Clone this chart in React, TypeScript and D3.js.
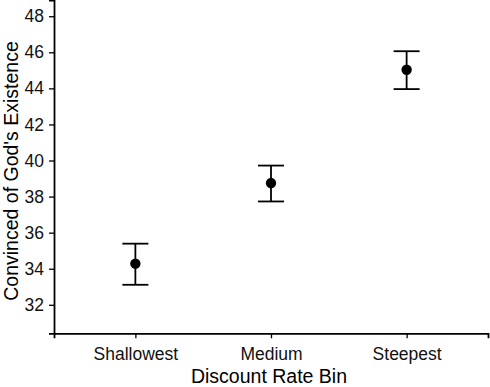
import React, { useEffect, useRef } from 'react'
import * as d3 from 'd3'

const bins = ['Shallowest', 'Medium', 'Steepest']
const means = [34.28, 38.75, 45.03]
const lower = [33.11, 37.73, 43.96]
const upper = [35.39, 39.72, 46.06]
const yTicks = [32, 34, 36, 38, 40, 42, 44, 46, 48]

const W = 490
const H = 387
const FONT = '"Liberation Sans", Arial, sans-serif'

export default function App() {
  const ref = useRef<SVGSVGElement>(null)

  useEffect(() => {
    const svg = d3.select(ref.current)
    svg.selectAll('*').remove()

    const left = 54
    const right = 488
    const top = 0
    const bottom = 333.3

    // discrete x with ggplot-like 0.6 expansion on each side
    const x = d3.scalePoint<string>()
      .domain(bins)
      .range([left, right])
      .padding(0.6)

    const y = d3.scaleLinear()
      .domain([30.42, 48.9])
      .range([bottom, top])

    const xAxis = svg.append('g')
      .attr('transform', `translate(0,${bottom})`)
      .call(d3.axisBottom(x).tickSizeOuter(0).tickSize(5).tickPadding(9))
    xAxis.select('.domain').attr('stroke', '#000').attr('stroke-width', 1.8)
    xAxis.selectAll('.tick line').attr('stroke', '#000').attr('stroke-width', 1.3)
    xAxis.selectAll('.tick text')
      .attr('fill', '#111')
      .attr('font-family', FONT)
      .attr('font-size', 17.5)

    const yAxis = svg.append('g')
      .attr('transform', `translate(${left},0)`)
      .call(d3.axisLeft(y).tickValues(yTicks).tickSizeOuter(0).tickSize(5).tickPadding(5))
    yAxis.select('.domain').attr('stroke', '#000').attr('stroke-width', 1.8)
    yAxis.selectAll('.tick line').attr('stroke', '#000').attr('stroke-width', 1.3)
    yAxis.selectAll('.tick text')
      .attr('fill', '#111')
      .attr('font-family', FONT)
      .attr('font-size', 17.5)

    const g = svg.append('g')
    const rows = bins.map((b, i) => ({ b, m: means[i], lo: lower[i], hi: upper[i] }))
    const cap = 13

    const pts = g.selectAll('g.pt').data(rows).enter().append('g').attr('class', 'pt')
    pts.append('line')
      .attr('x1', d => x(d.b)!).attr('x2', d => x(d.b)!)
      .attr('y1', d => y(d.lo)).attr('y2', d => y(d.hi))
      .attr('stroke', '#000').attr('stroke-width', 1.8)
    pts.append('line')
      .attr('x1', d => x(d.b)! - cap).attr('x2', d => x(d.b)! + cap)
      .attr('y1', d => y(d.lo)).attr('y2', d => y(d.lo))
      .attr('stroke', '#000').attr('stroke-width', 1.8)
    pts.append('line')
      .attr('x1', d => x(d.b)! - cap).attr('x2', d => x(d.b)! + cap)
      .attr('y1', d => y(d.hi)).attr('y2', d => y(d.hi))
      .attr('stroke', '#000').attr('stroke-width', 1.8)
    pts.append('circle')
      .attr('cx', d => x(d.b)!).attr('cy', d => y(d.m))
      .attr('r', 5.2).attr('fill', '#000')

    svg.append('text')
      .attr('x', (left + right) / 2 - 2)
      .attr('y', 383)
      .attr('text-anchor', 'middle')
      .attr('font-family', FONT)
      .attr('font-size', 19.5)
      .attr('fill', '#000')
      .text('Discount Rate Bin')

    svg.append('text')
      .attr('transform', `translate(17.5,171) rotate(-90)`)
      .attr('text-anchor', 'middle')
      .attr('font-family', FONT)
      .attr('font-size', 19.5)
      .attr('fill', '#000')
      .text("Convinced of God's Existence")
  }, [])

  return (
    <svg ref={ref} width={W} height={H}
      style={{ position: 'absolute', left: 0, top: 0, background: '#fff' }} />
  )
}
